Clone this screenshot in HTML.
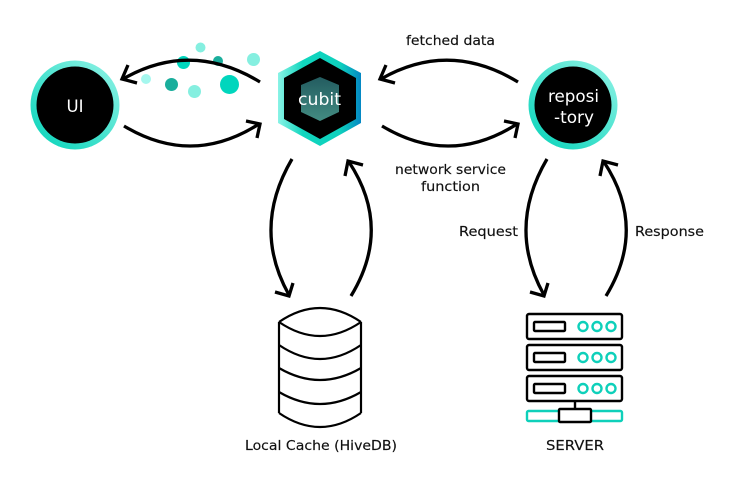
<!DOCTYPE html>
<html>
<head>
<meta charset="utf-8">
<style>
html,body{margin:0;padding:0;background:#fff;width:736px;height:478px;overflow:hidden}
svg{display:block}
text{font-family:"DejaVu Sans","Liberation Sans",sans-serif;fill:#111;stroke:#111;stroke-width:0.15px}
</style>
</head>
<body>
<svg width="736" height="478" viewBox="0 0 736 478" xmlns="http://www.w3.org/2000/svg">
<defs>
<linearGradient id="ring" x1="0.15" y1="0.95" x2="0.9" y2="0.1">
<stop offset="0" stop-color="#12d6bd"/><stop offset="1" stop-color="#85f0e2"/>
</linearGradient>
<linearGradient id="hexg" x1="0" y1="0.5" x2="1" y2="0.5">
<stop offset="0" stop-color="#8af3e6"/><stop offset="0.3" stop-color="#10d6be"/><stop offset="0.75" stop-color="#0ed0bd"/><stop offset="1" stop-color="#0487c4"/>
</linearGradient>
<linearGradient id="inner" x1="0" y1="0" x2="0" y2="1">
<stop offset="0" stop-color="#235c60"/><stop offset="1" stop-color="#438c82"/>
</linearGradient>
</defs>

<!-- dots -->
<circle cx="146" cy="79" r="5" fill="#a5f7ee"/>
<circle cx="171.500" cy="84.500" r="6.500" fill="#1aae9c"/>
<circle cx="194.500" cy="91.500" r="6.500" fill="#85efe0"/>
<circle cx="229.500" cy="84.500" r="9.500" fill="#00d6bd"/>
<circle cx="183.500" cy="62.500" r="6.500" fill="#00d6bd"/>
<circle cx="200.500" cy="47.500" r="5" fill="#85efe0"/>
<circle cx="218" cy="61" r="5" fill="#1aae9c"/>
<circle cx="253.500" cy="59.500" r="6.500" fill="#85efe0"/>

<!-- UI -->
<circle cx="75" cy="105" r="44.500" fill="url(#ring)"/>
<circle cx="75" cy="105" r="38.500" fill="#000"/>
<text x="75" y="112" text-anchor="middle" font-size="17" style="fill:#fff;stroke:none" textLength="17" lengthAdjust="spacingAndGlyphs">UI</text>

<!-- cubit -->
<polygon points="320,51 361,73 361,123 320,146 278,123 278,73" fill="url(#hexg)"/>
<polygon points="320,58 356,78 356,119 320,139 284,119 284,78" fill="#000"/>
<polygon points="320,77 339,85 339,112 320,121 301,112 301,85" fill="url(#inner)"/>
<text x="319.500" y="105" text-anchor="middle" font-size="17" style="fill:#fff;stroke:none" textLength="43" lengthAdjust="spacingAndGlyphs">cubit</text>

<!-- repository -->
<circle cx="573" cy="105" r="44.500" fill="url(#ring)"/>
<circle cx="573" cy="105" r="38.500" fill="#000"/>
<text x="573.500" y="102" text-anchor="middle" font-size="17" style="fill:#fff;stroke:none" textLength="51" lengthAdjust="spacingAndGlyphs">reposi</text>
<text x="574" y="123" text-anchor="middle" font-size="17" style="fill:#fff;stroke:none" textLength="40" lengthAdjust="spacingAndGlyphs">-tory</text>

<!-- arrows -->
<g fill="none" stroke="#000" stroke-width="3.300" stroke-linecap="butt" stroke-linejoin="miter">
<path d="M260 82 Q191 40 123 79"/><path d="M128 65 L122 79 L137 83"/>
<path d="M124 126 Q192 167 259 124"/><path d="M246 121 L260 124 L257 138"/>
<path d="M518 82 Q449 40 381 79"/><path d="M386 65 L380 79 L395 83"/>
<path d="M382 126 Q450 167 517 124"/><path d="M504 121 L518 124 L515 138"/>
<path d="M292 159 Q251.500 228 289 295"/><path d="M275 292 L289 296 L293 283"/>
<path d="M351 296 Q392.500 228 349 162"/><path d="M345 176 L348 161 L363 165"/>
<path d="M547 159 Q506.500 228 544 295"/><path d="M530 292 L544 296 L548 283"/>
<path d="M606 296 Q647.500 228 604 162"/><path d="M600 176 L603 161 L618 165"/>
</g>

<!-- cylinder -->
<g fill="none" stroke="#000" stroke-width="2.200">
<path d="M279 322 Q320 294 361 322"/>
<path d="M279 322 Q320 350 361 322"/>
<path d="M279 345 Q320 373 361 345"/>
<path d="M279 368 Q320 392 361 368"/>
<path d="M279 392 Q320 416 361 392"/>
<path d="M279 413 Q320 441 361 413"/>
<path d="M279 322 V413 M361 322 V413"/>
</g>

<!-- server -->
<g fill="none" stroke="#000" stroke-width="2.400">
<rect x="527" y="314" width="95" height="25" rx="2"/>
<rect x="534" y="322" width="31" height="9" rx="1"/>
<rect x="527" y="345" width="95" height="25" rx="2"/>
<rect x="534" y="353" width="31" height="9" rx="1"/>
<rect x="527" y="376" width="95" height="25" rx="2"/>
<rect x="534" y="384" width="31" height="9" rx="1"/>
<path d="M575 401 V409"/>
</g>
<g fill="none" stroke="#0ed0ba" stroke-width="2.400">
<circle cx="583" cy="326.500" r="4.500"/><circle cx="597" cy="326.500" r="4.500"/><circle cx="611" cy="326.500" r="4.500"/>
<circle cx="583" cy="357.500" r="4.500"/><circle cx="597" cy="357.500" r="4.500"/><circle cx="611" cy="357.500" r="4.500"/>
<circle cx="583" cy="388.500" r="4.500"/><circle cx="597" cy="388.500" r="4.500"/><circle cx="611" cy="388.500" r="4.500"/>
<rect x="527" y="411" width="95" height="10" rx="1.500"/>
</g>
<rect x="559" y="409" width="32" height="13" rx="1" fill="#fff" stroke="#000" stroke-width="2.400"/>

<!-- labels -->
<g font-size="13">
<text x="406" y="45" textLength="89" lengthAdjust="spacingAndGlyphs">fetched data</text>
<text x="395" y="174" textLength="111" lengthAdjust="spacingAndGlyphs">network service</text>
<text x="421" y="191" textLength="59" lengthAdjust="spacingAndGlyphs">function</text>
<text x="459" y="236" textLength="59" lengthAdjust="spacingAndGlyphs">Request</text>
<text x="635" y="236" textLength="69" lengthAdjust="spacingAndGlyphs">Response</text>
<text x="245" y="450" textLength="152" lengthAdjust="spacingAndGlyphs">Local Cache (HiveDB)</text>
<text x="546" y="450" textLength="58" lengthAdjust="spacingAndGlyphs">SERVER</text>
</g>
</svg>
</body>
</html>
